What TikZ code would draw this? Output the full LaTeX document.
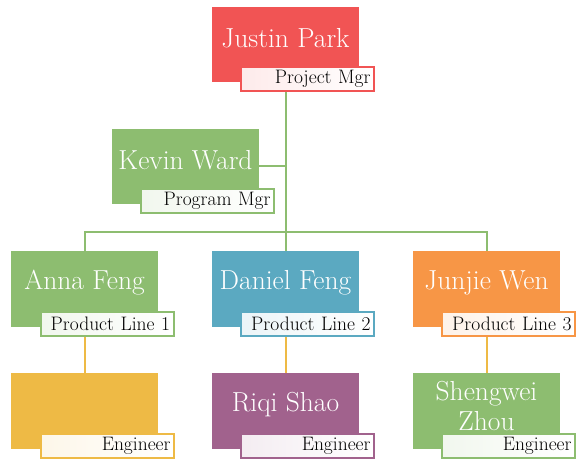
\documentclass[tikz,border=0pt]{standalone}
\usepackage{fontspec}
\setmainfont{Latin Modern Roman}
\definecolor{cred}{HTML}{F15454}
\definecolor{cgreen}{HTML}{8DBD70}
\definecolor{cblue}{HTML}{5BA9C1}
\definecolor{corange}{HTML}{F79646}
\definecolor{cyellow}{HTML}{EEBA45}
\definecolor{cpurple}{HTML}{A1628D}
\tikzset{
  pbox/.style={rectangle, inner sep=0pt, minimum width=147pt, minimum height=75pt, fill=#1},
  lbox/.style={rectangle, draw=#1, line width=2pt, left color=#1!12!white, right color=white,
     minimum height=24pt, text width=126pt, inner xsep=3.5pt, inner ysep=0pt, align=right,
     font=\fontsize{19.5}{21}\selectfont, text=black},
  nm/.style={text=white, font=\fontsize{27.5}{30}\selectfont, align=center, inner sep=0pt},
  gline/.style={draw=cgreen, line width=2pt},
  yline/.style={draw=cyellow, line width=2pt}
}
\begin{document}
\begin{tikzpicture}[x=1pt,y=-1pt]
\useasboundingbox (0,0) rectangle (577,462);
% boxes
\node[pbox=cred] (jp) at (285.5,44.5) {};
\node[pbox=cgreen] (kw) at (185.5,166.5) {};
\node[pbox=cgreen] (af) at (84.5,289) {};
\node[pbox=cblue] (df) at (285.5,289) {};
\node[pbox=corange] (jw) at (486.5,289) {};
\node[pbox=cyellow] (e1) at (84.5,411) {};
\node[pbox=cpurple] (rs) at (285.5,411) {};
\node[pbox=cgreen] (sz) at (486.5,411) {};
% connectors
\coordinate (bus) at (285.5,232);
\draw[gline] (jp.south) -- (df.north);
\draw[gline] (kw.east) -- (kw.east -| jp.south);
\draw[gline] (af.north) -- (af.north |- bus) -- (jw.north |- bus) -- (jw.north);
\draw[yline] (af.center) -- (e1.north);
\draw[yline] (df.center) -- (rs.north);
\draw[yline] (jw.center) -- (sz.north);
% redraw boxes over connectors
\fill[cred] (jp.north west) rectangle (jp.south east);
\fill[cgreen] (kw.north west) rectangle (kw.south east);
\fill[cgreen] (af.north west) rectangle (af.south east);
\fill[cblue] (df.north west) rectangle (df.south east);
\fill[corange] (jw.north west) rectangle (jw.south east);
\fill[cyellow] (e1.north west) rectangle (e1.south east);
\fill[cpurple] (rs.north west) rectangle (rs.south east);
\fill[cgreen] (sz.north west) rectangle (sz.south east);
% names
\node[nm] (jpt) at (285.5,38) {Justin Park};
\node[nm] (kwt) at (185.5,160) {Kevin Ward};
\node[nm] (aft) at (84.5,283) {Anna Feng};
\node[nm] (dft) at (285.5,283) {Daniel Feng};
\node[nm] (jwt) at (486.5,283) {Junjie Wen};
\node[nm] (rst) at (285.5,405) {Riqi Shao};
\node[nm] (szt) at (486.5,406) {Shengwei\\Zhou};
% labels
\node[lbox=cred] (jpl) at (307.5,79) {Project Mgr};
\node[lbox=cgreen] (kwl) at (207.5,201) {Program Mgr};
\node[lbox=cgreen] (afl) at (107,323.5) {Product Line 1};
\node[lbox=cblue] (dfl) at (307.5,323.5) {Product Line 2};
\node[lbox=corange] (jwl) at (508.5,323.5) {Product Line 3};
\node[lbox=cyellow] (e1l) at (107.5,445.5) {Engineer};
\node[lbox=cpurple] (rsl) at (307.5,445.5) {Engineer};
\node[lbox=cgreen] (szl) at (508.5,445.5) {Engineer};
\end{tikzpicture}
\end{document}
